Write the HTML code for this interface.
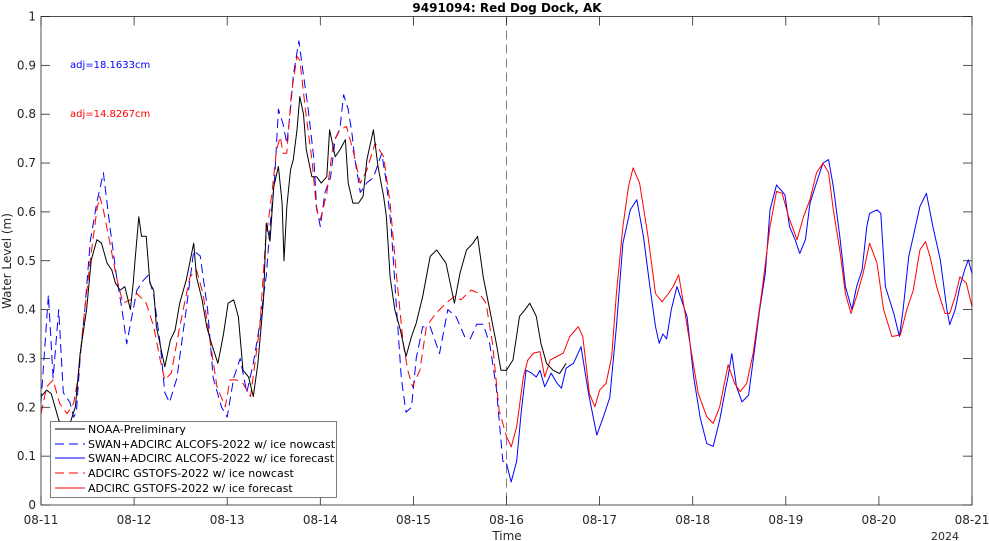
<!DOCTYPE html>
<html><head><meta charset="utf-8"><style>
body{margin:0;background:#fff}
svg{display:block;font-family:"DejaVu Sans","Liberation Sans",sans-serif}
</style></head><body>
<svg id="c" width="989" height="541" viewBox="0 0 989 541">
<rect x="0" y="0" width="989" height="541" fill="#fff"/>
<text x="507" y="12" text-anchor="middle" font-size="12" font-weight="bold" fill="#000">9491094: Red Dog Dock, AK</text>
<g id="grid"></g>
<g id="series"></g>
<g id="axes"></g>
<text x="70" y="68" font-size="10" fill="#0000ff">adj=18.1633cm</text>
<text x="70" y="117" font-size="10" fill="#ff0000">adj=14.8267cm</text>
<text x="507" y="540" text-anchor="middle" font-size="12" fill="#262626">Time</text>
<text transform="translate(11,261) rotate(-90)" text-anchor="middle" font-size="12" fill="#262626">Water Level (m)</text>
<text x="945" y="540" text-anchor="middle" font-size="11" fill="#262626">2024</text>
<g>
<rect x="50.5" y="421.5" width="286" height="76" fill="#fff" stroke="#262626" stroke-width="0.6"/>
<line x1="55" x2="85" y1="429" y2="429" stroke="#000" stroke-width="1"/>
<text x="88" y="433" font-size="11" fill="#000">NOAA-Preliminary</text>
<line x1="55" x2="85" y1="444" y2="444" stroke="#0000ff" stroke-width="1" stroke-dasharray="9,5"/>
<text x="88" y="448" font-size="11" fill="#000">SWAN+ADCIRC ALCOFS-2022 w/ ice nowcast</text>
<line x1="55" x2="85" y1="458" y2="458" stroke="#0000ff" stroke-width="1"/>
<text x="88" y="462" font-size="11" fill="#000">SWAN+ADCIRC ALCOFS-2022 w/ ice forecast</text>
<line x1="55" x2="85" y1="473" y2="473" stroke="#ff0000" stroke-width="1" stroke-dasharray="9,5"/>
<text x="88" y="477" font-size="11" fill="#000">ADCIRC GSTOFS-2022 w/ ice nowcast</text>
<line x1="55" x2="85" y1="488" y2="488" stroke="#ff0000" stroke-width="1"/>
<text x="88" y="492" font-size="11" fill="#000">ADCIRC GSTOFS-2022 w/ ice forecast</text>
</g>
</svg>
<script>
const xTickLabels=["08-11","08-12","08-13","08-14","08-15","08-16","08-17","08-18","08-19","08-20","08-21"];
const yTickLabels=["0","0.1","0.2","0.3","0.4","0.5","0.6","0.7","0.8","0.9","1"];
const nowcastEndDay=5;
const obsT=[0,.06,.11,.15,.19,.24,.3,.37,.42,.49,.54,.6,.65,.71,.76,.8,.85,.9,.96,.99,1.01,1.05,1.08,1.13,1.17,1.21,1.24,1.3,1.33,1.39,1.44,1.49,1.56,1.64,1.67,1.73,1.78,1.83,1.9,1.96,2.01,2.07,2.12,2.17,2.23,2.28,2.33,2.39,2.42,2.46,2.5,2.55,2.59,2.61,2.64,2.68,2.71,2.75,2.78,2.82,2.85,2.91,2.96,3.01,3.07,3.1,3.16,3.21,3.27,3.3,3.35,3.41,3.46,3.5,3.57,3.62,3.68,3.71,3.75,3.8,3.86,3.92,3.98,4.03,4.1,4.18,4.25,4.35,4.44,4.5,4.57,4.64,4.69,4.75,4.82,4.89,4.94,5.0,5.07,5.14,5.2,5.25,5.32,5.37,5.43,5.5,5.57,5.64];
const obsV=[.222,.235,.228,.201,.174,.16,.16,.201,.31,.40,.502,.543,.536,.495,.481,.454,.44,.447,.40,.454,.50,.59,.55,.55,.454,.44,.365,.31,.283,.338,.358,.413,.46,.536,.467,.42,.365,.331,.29,.35,.413,.42,.385,.276,.262,.222,.29,.42,.577,.54,.652,.693,.618,.50,.61,.686,.707,.768,.836,.80,.727,.672,.672,.659,.672,.768,.713,.727,.748,.659,.618,.618,.632,.707,.768,.693,.632,.59,.467,.40,.358,.304,.345,.372,.427,.509,.522,.495,.413,.474,.522,.536,.55,.467,.40,.331,.276,.276,.297,.386,.40,.413,.386,.331,.29,.276,.269,.29];
const blueNowT=[0,.08,.13,.19,.24,.31,.35,.38,.42,.47,.53,.6,.67,.74,.81,.87,.92,.96,1.03,1.1,1.15,1.21,1.28,1.33,1.38,1.46,1.56,1.64,1.71,1.79,1.85,1.94,2.0,2.07,2.14,2.21,2.28,2.35,2.42,2.46,2.51,2.55,2.6,2.64,2.68,2.71,2.77,2.82,2.87,2.93,2.96,3.0,3.05,3.11,3.16,3.21,3.25,3.3,3.34,3.37,3.43,3.5,3.57,3.66,3.71,3.76,3.82,3.87,3.92,3.98,4.03,4.1,4.18,4.28,4.37,4.46,4.55,4.61,4.68,4.75,4.82,4.89,4.96,5.0];
const blueNowV=[.21,.43,.26,.40,.23,.21,.18,.19,.30,.40,.54,.62,.68,.57,.47,.40,.33,.37,.44,.46,.47,.43,.33,.23,.21,.26,.40,.52,.51,.40,.26,.20,.18,.26,.30,.23,.29,.37,.47,.57,.67,.81,.78,.74,.81,.88,.95,.88,.81,.71,.61,.57,.64,.67,.75,.77,.84,.81,.76,.71,.64,.66,.67,.72,.66,.57,.40,.26,.19,.20,.30,.365,.365,.31,.40,.385,.345,.34,.37,.37,.33,.24,.09,.085];
const blueFcT=[5.0,5.05,5.11,5.16,5.21,5.27,5.32,5.36,5.41,5.48,5.54,5.59,5.64,5.72,5.8,5.88,5.97,6.04,6.11,6.18,6.25,6.33,6.4,6.47,6.54,6.6,6.64,6.68,6.72,6.77,6.83,6.88,6.94,7.01,7.08,7.15,7.22,7.29,7.35,7.38,7.42,7.47,7.53,7.6,7.65,7.72,7.78,7.83,7.9,7.99,8.04,8.1,8.15,8.21,8.26,8.33,8.4,8.46,8.51,8.58,8.64,8.71,8.76,8.82,8.87,8.9,8.98,9.02,9.07,9.16,9.22,9.26,9.32,9.37,9.44,9.51,9.58,9.66,9.73,9.76,9.82,9.87,9.92,9.96,10.0];
const blueFcV=[.085,.047,.09,.194,.276,.27,.262,.276,.242,.27,.25,.239,.28,.29,.324,.23,.143,.18,.22,.365,.536,.604,.625,.55,.447,.365,.331,.35,.34,.40,.447,.42,.385,.263,.18,.126,.12,.174,.235,.263,.31,.242,.211,.225,.297,.40,.474,.604,.655,.635,.57,.543,.515,.543,.618,.66,.70,.707,.652,.55,.447,.40,.447,.481,.57,.597,.604,.597,.447,.392,.345,.40,.508,.55,.611,.638,.57,.502,.40,.369,.40,.447,.481,.502,.474];
const redNowT=[0,.06,.13,.2,.28,.35,.4,.45,.53,.6,.63,.67,.74,.81,.88,.96,1.03,1.13,1.21,1.28,1.33,1.4,1.49,1.6,1.67,1.74,1.82,1.89,1.98,2.03,2.1,2.17,2.25,2.35,2.41,2.48,2.53,2.57,2.6,2.64,2.69,2.75,2.78,2.84,2.91,2.96,3.0,3.07,3.14,3.21,3.28,3.35,3.43,3.5,3.59,3.68,3.75,3.82,3.89,3.94,3.99,4.07,4.14,4.24,4.35,4.44,4.51,4.62,4.71,4.78,4.85,4.92,5.0];
const redNowV=[.187,.242,.256,.208,.187,.208,.262,.365,.502,.604,.632,.604,.536,.467,.413,.42,.433,.413,.365,.297,.256,.27,.365,.467,.481,.433,.331,.242,.201,.256,.256,.249,.222,.365,.536,.638,.727,.754,.72,.72,.843,.918,.911,.81,.707,.604,.584,.638,.741,.768,.775,.727,.659,.686,.741,.713,.618,.467,.331,.276,.242,.276,.365,.392,.413,.427,.42,.44,.433,.413,.331,.194,.14];
const redFcT=[5.0,5.05,5.11,5.18,5.23,5.29,5.36,5.41,5.47,5.54,5.61,5.68,5.77,5.82,5.89,5.95,6.0,6.07,6.13,6.18,6.25,6.31,6.36,6.43,6.52,6.6,6.67,6.74,6.79,6.85,6.9,6.97,7.06,7.15,7.22,7.29,7.38,7.45,7.51,7.58,7.65,7.74,7.83,7.9,7.96,8.03,8.12,8.19,8.26,8.33,8.4,8.46,8.51,8.58,8.64,8.7,8.76,8.83,8.9,8.98,9.05,9.14,9.23,9.3,9.37,9.44,9.5,9.55,9.62,9.71,9.76,9.82,9.87,9.94,10.0];
const redFcV=[.14,.119,.16,.262,.297,.311,.314,.262,.297,.304,.311,.345,.365,.345,.228,.201,.235,.249,.304,.433,.57,.652,.69,.659,.55,.433,.416,.433,.447,.471,.413,.331,.228,.181,.167,.201,.287,.249,.232,.249,.311,.433,.57,.642,.638,.59,.543,.59,.625,.68,.70,.68,.604,.522,.433,.392,.427,.474,.536,.495,.40,.345,.348,.40,.44,.522,.539,.508,.447,.392,.392,.427,.467,.454,.406];

const NS='http://www.w3.org/2000/svg';
const L=41,R=972,T=16.5,B=505;
const xs=d=>L+(R-L)*d/10;
const ys=v=>B-(B-T)*v;
function path(t,v){let d='';for(let i=0;i<t.length;i++){d+=(i?'L':'M')+xs(t[i]).toFixed(1)+','+ys(v[i]).toFixed(1);}return d;}
const sg=document.getElementById('series');
function addSeries(t,v,color,dash,name){
 const p=document.createElementNS(NS,'path');
 p.setAttribute('d',path(t,v));p.setAttribute('fill','none');p.setAttribute('stroke',color);
 p.setAttribute('stroke-width','1');p.setAttribute('stroke-linejoin','round');
 if(dash)p.setAttribute('stroke-dasharray',dash);
 
 
 sg.appendChild(p);
}
// nowcast divider
const dv=document.createElementNS(NS,'line');
dv.setAttribute('x1',xs(nowcastEndDay));dv.setAttribute('x2',xs(nowcastEndDay));dv.setAttribute('y1',T);dv.setAttribute('y2',B);
dv.setAttribute('stroke','#808080');dv.setAttribute('stroke-width','1');dv.setAttribute('stroke-dasharray','9,5');


document.getElementById('grid').appendChild(dv);
addSeries(blueNowT,blueNowV,'#0000ff','9,5','alcofs-nowcast-line');
addSeries(blueFcT,blueFcV,'#0000ff',null,'alcofs-forecast-line');
addSeries(redNowT,redNowV,'#ff0000','9,5','gstofs-nowcast-line');
addSeries(redFcT,redFcV,'#ff0000',null,'gstofs-forecast-line');
addSeries(obsT,obsV,'#000000',null,'noaa-observed-line');

const ax=document.getElementById('axes');
const box=document.createElementNS(NS,'rect');
box.setAttribute('x',L);box.setAttribute('y',T);box.setAttribute('width',R-L);box.setAttribute('height',B-T);
box.setAttribute('fill','none');box.setAttribute('stroke','#262626');box.setAttribute('stroke-width','0.8');


ax.appendChild(box);
function ln(x1,y1,x2,y2){const l=document.createElementNS(NS,'line');l.setAttribute('x1',x1);l.setAttribute('y1',y1);l.setAttribute('x2',x2);l.setAttribute('y2',y2);l.setAttribute('stroke','#262626');l.setAttribute('stroke-width','0.8');


ax.appendChild(l);}
xTickLabels.forEach((s,i)=>{const x=xs(i);ln(x,B,x,B-9);ln(x,T,x,T+9);
 const t=document.createElementNS(NS,'text');t.setAttribute('x',x);t.setAttribute('y',524);t.setAttribute('text-anchor','middle');t.setAttribute('font-size','12');t.setAttribute('fill','#262626');t.textContent=s;
 
 
 ax.appendChild(t);});
yTickLabels.forEach((s,i)=>{const y=ys(i/10);ln(L,y,L+9,y);ln(R,y,R-9,y);
 const t=document.createElementNS(NS,'text');t.setAttribute('x',36);t.setAttribute('y',y+4);t.setAttribute('text-anchor','end');t.setAttribute('font-size','12');t.setAttribute('fill','#262626');t.textContent=s;
 
 
 ax.appendChild(t);});
</script>
</body></html>
